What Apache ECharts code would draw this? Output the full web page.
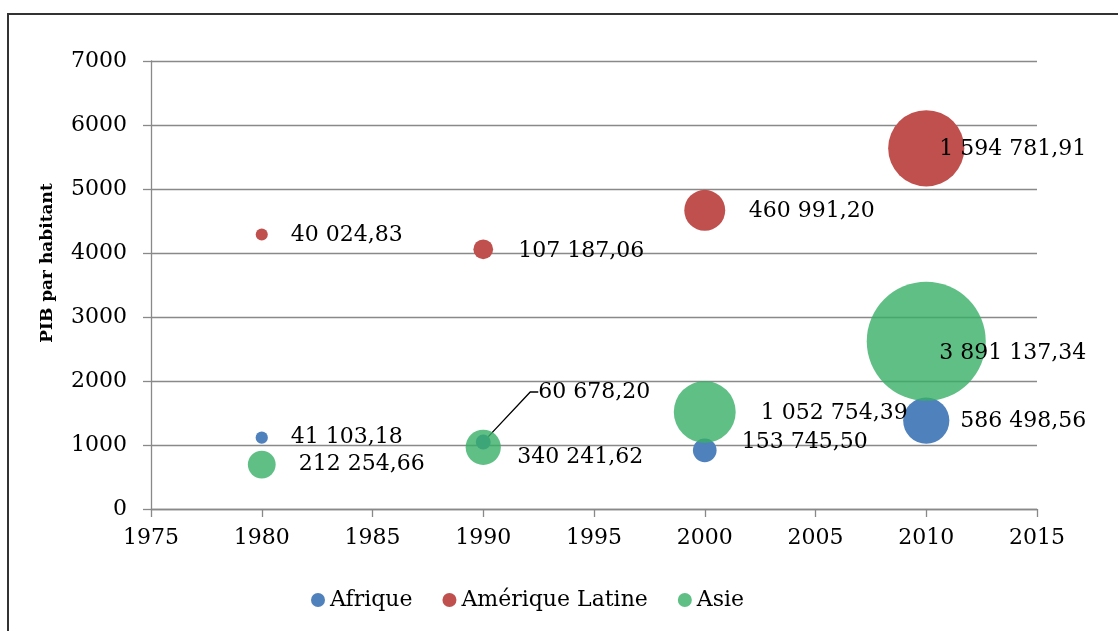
<!DOCTYPE html>
<html>
<head>
<meta charset="utf-8">
<title>PIB par habitant</title>
<script src="https://cdn.jsdelivr.net/npm/echarts@6/dist/echarts.min.js"></script>
<style>
  html, body { margin: 0; padding: 0; background: #fff; }
  #frame {
    position: absolute; left: 7px; top: 13px; width: 1300px; height: 800px;
    border-left: 2px solid #333; border-top: 2px solid #333; pointer-events: none;
  }
  #chart { width: 1118px; height: 631px; }
</style>
</head>
<body>
<div id="chart"></div>
<div id="frame"></div>
<script>
// données
const annees = [1980, 1990, 2000, 2010];
const series = ['Afrique', 'Amérique Latine', 'Asie'];

const afriquePib = [1115, 1047, 917, 1381];
const afriqueTaille = [41103.18, 60678.20, 153745.50, 586498.56];

const ameriquePib = [4290, 4058, 4667, 5636];
const ameriqueTaille = [40024.83, 107187.06, 460991.20, 1594781.91];

const asiePib = [694, 964, 1516, 2620];
const asieTaille = [212254.66, 340241.62, 1052754.39, 3891137.34];

const couleurs = ['#4F81BD', '#C0504D', 'rgba(55,175,102,0.8)'];

// décalage des étiquettes (px) par rapport au centre de la bulle
const decalages = [
  [[29, 0], [55, -50], [37, -8], [34, 1]],
  [[29, 1], [35, 2], [44, 1], [13, 1]],
  [[37, 0], [34, 10], [56, 1], [13, 12]]
];

const maxTaille = Math.max(...afriqueTaille, ...ameriqueTaille, ...asieTaille);
const police = 'DejaVu Serif';

function formatFr(v) {
  let parts = v.toFixed(2).split('.');
  return parts[0].replace(/\B(?=(\d{3})+(?!\d))/g, ' ') + ',' + parts[1];
}

function makeData(pib, taille, leader) {
  return annees.map(function (a, i) {
    let item = { value: [a, pib[i], taille[i]] };
    if (leader === i) {
      item.labelLine = { show: true, length2: 8, lineStyle: { color: '#000', width: 1.3 } };
    }
    return item;
  });
}

const chart = echarts.init(document.getElementById('chart'));

const donnees = [
  makeData(afriquePib, afriqueTaille, 1),
  makeData(ameriquePib, ameriqueTaille),
  makeData(asiePib, asieTaille)
];

chart.setOption({
  animation: false,
  textStyle: { fontFamily: police },
  legend: {
    data: series,
    left: 306,
    top: 584,
    icon: 'circle',
    itemWidth: 14,
    itemHeight: 14,
    itemGap: 30,
    textStyle: { fontFamily: police, fontSize: 22, color: '#000' }
  },
  grid: { left: 151, right: 81, top: 61, bottom: 122 },
  xAxis: {
    type: 'value',
    min: 1975,
    max: 2015,
    interval: 5,
    splitLine: { show: false },
    axisLine: { lineStyle: { color: '#898989', width: 1.3 } },
    axisTick: { length: 8, lineStyle: { color: '#898989', width: 1.3 } },
    axisLabel: { margin: 18, color: '#000', fontSize: 22, fontFamily: police, formatter: function (v) { return String(v); } }
  },
  yAxis: {
    type: 'value',
    min: 0,
    max: 7000,
    interval: 1000,
    name: 'PIB par habitant',
    nameLocation: 'middle',
    nameGap: 95,
    nameTextStyle: { fontFamily: police, fontWeight: 'bold', fontSize: 17, color: '#000', padding: [0, 0, 0, 44] },
    axisLine: { show: true, lineStyle: { color: '#898989', width: 1.3 } },
    axisTick: { show: true, length: 8, lineStyle: { color: '#898989', width: 1.3 } },
    splitLine: { lineStyle: { color: '#898989', width: 1.3 } },
    axisLabel: { margin: 24, color: '#000', fontSize: 22, fontFamily: police, formatter: function (v) { return String(v); } }
  },
  series: series.map(function (nom, s) {
    return {
      name: nom,
      type: 'scatter',
      data: donnees[s],
      symbolSize: function (val) {
        return 119 * Math.sqrt(val[2] / maxTaille);
      },
      itemStyle: { color: couleurs[s], opacity: 1 },
      label: {
        show: true,
        position: 'right',
        color: '#000',
        fontSize: 22,
        fontFamily: police,
        formatter: function (p) { return formatFr(p.value[2]); }
      },
      labelLayout: function (p) {
        let d = decalages[p.seriesIndex][p.dataIndex];
        return {
          x: p.rect.x + p.rect.width / 2 + d[0],
          y: p.rect.y + p.rect.height / 2 + d[1],
          align: 'left',
          verticalAlign: 'middle'
        };
      }
    };
  })
});
</script>
</body>
</html>
